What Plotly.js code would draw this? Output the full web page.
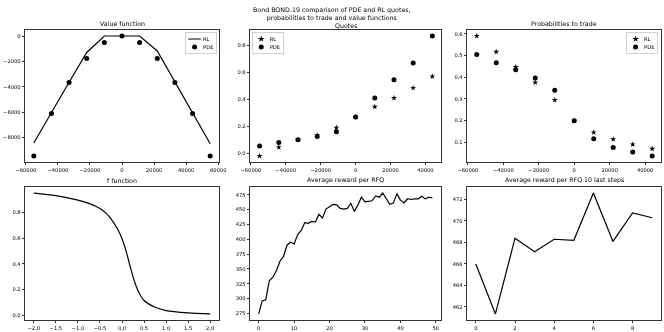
<!DOCTYPE html>
<html>
<head>
<meta charset="utf-8">
<script src="https://cdn.plot.ly/plotly-3.0.1.min.js"></script>
<style>
  html, body { margin: 0; padding: 0; background: #fff; }
  #chart { width: 664px; height: 332px; }
  .main-svg { will-change: transform; }
</style>
</head>
<body>
<div id="chart"></div>
<script>
// values
const valueX = [-55000, -44000, -33000, -22000, -11000, 0, 11000, 22000, 33000, 44000, 55000];
const valueRL = [-8450, -6000, -3650, -1300, 0, 0, 0, -1180, -3600, -6050, -8500];
const valuePDE = [-9470, -6110, -3660, -1780, -520, 0, -520, -1780, -3660, -6110, -9470];

const quoteX = [-55000, -44000, -33000, -22000, -11000, 0, 11000, 22000, 33000, 44000];
const quoteRL = [-0.02, 0.045, 0.10, 0.135, 0.19, 0.27, 0.345, 0.41, 0.485, 0.57];
const quotePDE = [0.055, 0.08, 0.10, 0.125, 0.16, 0.27, 0.41, 0.545, 0.67, 0.87];

const probRL = [0.59, 0.517, 0.447, 0.376, 0.295, 0.20, 0.146, 0.114, 0.09, 0.07];
const probPDE = [0.505, 0.467, 0.435, 0.397, 0.34, 0.20, 0.116, 0.076, 0.056, 0.037];

const fX = [-2.0, -1.5, -1.0, -0.75, -0.5, -0.35, -0.25, -0.1, 0.0, 0.1, 0.2, 0.3, 0.4, 0.5, 0.75, 1.0, 1.5, 2.0];
const fY = [0.95, 0.93, 0.895, 0.87, 0.83, 0.79, 0.75, 0.67, 0.595, 0.49, 0.36, 0.245, 0.165, 0.115, 0.062, 0.036, 0.018, 0.01];

const rewardX = [0, 1, 2, 3, 4, 5, 6, 7, 8, 9, 10, 11, 12, 13, 14, 15, 16, 17, 18, 19,
  20, 21, 22, 23, 24, 25, 26, 27, 28, 29, 30, 31, 32, 33, 34, 35, 36, 37, 38, 39,
  40, 41, 42, 43, 44, 45, 46, 47, 48, 49];
const rewardY = [274, 296, 298, 330, 336, 347, 363, 371, 390, 395,
  392, 408, 415, 428, 427, 430, 429, 442, 436, 451,
  455, 459, 458, 452, 451, 452, 461, 447, 458, 471,
  463, 464, 465, 473, 471, 478, 468, 459, 461, 477,
  466.0, 461.3, 468.4, 467.1, 468.3, 468.2, 472.6, 468.1, 470.8, 470.3];

const lastX = [0, 1, 2, 3, 4, 5, 6, 7, 8, 9];
const lastY = [466.0, 461.35, 468.4, 467.14, 468.3, 468.2, 472.6, 468.1, 470.75, 470.3];

const FONT = "DejaVu Sans, sans-serif";
const W = 664;
const H = 332;
const LEGEND_SCALE = 0.42;

// matplotlib-style 5% autoscale margin
function pad(...arrays) {
  const all = arrays.flat();
  const lo = Math.min(...all);
  const hi = Math.max(...all);
  const m = (hi - lo) * 0.05;
  return [lo - m, hi + m];
}

function axis(domain, anchor, range, extra) {
  return {
    domain,
    anchor,
    range,
    showline: true,
    mirror: true,
    linecolor: "#000",
    linewidth: 0.8,
    ticks: "outside",
    ticklen: 2.5,
    tickwidth: 0.8,
    tickcolor: "#000",
    showgrid: false,
    zeroline: false,
    tickfont: { family: FONT, size: 5.2, color: "#000" },
    ...extra,
  };
}

const cols = [[25 / W, 219 / W], [250 / W, 441 / W], [467 / W, 661 / W]];
const rows = [[1 - 162 / H, 1 - 30 / H], [1 - 320 / H, 1 - 187 / H]];

const dot = { color: "#000", size: 5, symbol: "circle" };
const star = { color: "#000", size: 4.5, symbol: "star" };
const line = { color: "#000", width: 1.2 };

const traces = [
  { x: valueX, y: valueRL, type: "scatter", mode: "lines", name: "RL", line, xaxis: "x", yaxis: "y", legend: "legend" },
  { x: valueX, y: valuePDE, type: "scatter", mode: "markers", name: "PDE", marker: dot, xaxis: "x", yaxis: "y", legend: "legend" },
  { x: quoteX, y: quoteRL, type: "scatter", mode: "markers", name: "RL", marker: star, xaxis: "x2", yaxis: "y2", legend: "legend2" },
  { x: quoteX, y: quotePDE, type: "scatter", mode: "markers", name: "PDE", marker: dot, xaxis: "x2", yaxis: "y2", legend: "legend2" },
  { x: quoteX, y: probRL, type: "scatter", mode: "markers", name: "RL", marker: star, xaxis: "x3", yaxis: "y3", legend: "legend3" },
  { x: quoteX, y: probPDE, type: "scatter", mode: "markers", name: "PDE", marker: dot, xaxis: "x3", yaxis: "y3", legend: "legend3" },
  { x: fX, y: fY, type: "scatter", mode: "lines", line: { ...line, shape: "spline", smoothing: 0.8 }, showlegend: false, xaxis: "x4", yaxis: "y4" },
  { x: rewardX, y: rewardY, type: "scatter", mode: "lines", line, showlegend: false, xaxis: "x5", yaxis: "y5" },
  { x: lastX, y: lastY, type: "scatter", mode: "lines", line, showlegend: false, xaxis: "x6", yaxis: "y6" },
];

function legendBox(x, xanchor) {
  return {
    x,
    xanchor,
    y: 1 - 32 / H,
    yanchor: "top",
    bgcolor: "rgba(255,255,255,0.8)",
    bordercolor: "#c8c8c8",
    borderwidth: 2,
    font: { family: FONT, size: 12.5, color: "#000" },
    itemsizing: "constant",
    itemwidth: 30,
    tracegroupgap: 0,
  };
}

function subTitle(text, col, row) {
  return {
    text,
    xref: "paper",
    yref: "paper",
    x: (cols[col][0] + cols[col][1]) / 2,
    y: rows[row][1],
    xanchor: "center",
    yanchor: "bottom",
    yshift: 1,
    showarrow: false,
    font: { family: FONT, size: 6.3, color: "#000" },
  };
}

const thousands = { tickformat: "d" };
const sideRange = pad(quoteX);
sideRange[0] = Math.min(sideRange[0], -60500);

const layout = {
  width: W,
  height: H,
  margin: { l: 0, r: 0, t: 0, b: 0 },
  paper_bgcolor: "#fff",
  plot_bgcolor: "#fff",
  font: { family: FONT, color: "#000" },
  xaxis: axis(cols[0], "y", pad(valueX), { tickvals: [-60000, -40000, -20000, 0, 20000, 40000, 60000], ...thousands }),
  yaxis: axis(rows[0], "x", pad(valueRL, valuePDE), { tickvals: [-8000, -6000, -4000, -2000, 0], ...thousands }),
  xaxis2: axis(cols[1], "y2", sideRange, { tickvals: [-60000, -40000, -20000, 0, 20000, 40000], ...thousands }),
  yaxis2: axis(rows[0], "x2", pad(quoteRL, quotePDE), { tickvals: [0, 0.2, 0.4, 0.6, 0.8], tickformat: ".1f" }),
  xaxis3: axis(cols[2], "y3", sideRange, { tickvals: [-60000, -40000, -20000, 0, 20000, 40000], ...thousands }),
  yaxis3: axis(rows[0], "x3", pad(probRL, probPDE), { tickvals: [0.1, 0.2, 0.3, 0.4, 0.5, 0.6], tickformat: ".1f" }),
  xaxis4: axis(cols[0], "y4", pad(fX), { tickvals: [-2, -1.5, -1, -0.5, 0, 0.5, 1, 1.5, 2], tickformat: ".1f" }),
  yaxis4: axis(rows[1], "x4", pad(fY), { tickvals: [0, 0.2, 0.4, 0.6, 0.8], tickformat: ".1f" }),
  xaxis5: axis(cols[1], "y5", pad(rewardX), { tickvals: [0, 10, 20, 30, 40, 50] }),
  yaxis5: axis(rows[1], "x5", pad(rewardY), { tickvals: [275, 300, 325, 350, 375, 400, 425, 450, 475] }),
  xaxis6: axis(cols[2], "y6", pad(lastX), { tickvals: [0, 2, 4, 6, 8] }),
  yaxis6: axis(rows[1], "x6", pad(lastY), { tickvals: [462, 464, 466, 468, 470, 472] }),
  legend: legendBox(218 / W, "right"),
  legend2: legendBox(252 / W, "left"),
  legend3: legendBox(659 / W, "right"),
  annotations: [
    {
      text: "Bond BOND.19 comparison of PDE and RL quotes,<br>probabilities to trade and value functions",
      xref: "paper",
      yref: "paper",
      x: 0.5,
      y: 1,
      xanchor: "center",
      yanchor: "top",
      yshift: -4,
      showarrow: false,
      font: { family: FONT, size: 6.3, color: "#000" },
    },
    subTitle("Value function", 0, 0),
    { ...subTitle("Quotes", 1, 0), yshift: -0.5 },
    subTitle("Probabilities to trade", 2, 0),
    subTitle("f function", 0, 1),
    subTitle("Average reward per RFQ", 1, 1),
    subTitle("Average reward per RFQ 10 last steps", 2, 1),
  ],
  showlegend: true,
};

// plotly legends can't go as small as matplotlib's, so shrink them after drawing
function shrinkLegends(gd) {
  const anchors = { legend: "right", legend2: "left", legend3: "right" };
  Object.keys(anchors).forEach((id) => {
    const g = gd.querySelector(`.infolayer > g.${id}`);
    if (!g) {
      return;
    }
    const match = /translate\(\s*([-\d.]+)[ ,]+([-\d.]+)\s*\)/.exec(g.getAttribute("transform") || "");
    if (!match) {
      return;
    }
    const tx = Number(match[1]);
    const ty = Number(match[2]);
    const bg = g.querySelector("rect.bg");
    const w = bg ? Number(bg.getAttribute("width")) : g.getBBox().width;
    const nx = anchors[id] === "right" ? tx + w * (1 - LEGEND_SCALE) : tx;
    g.setAttribute("transform", `translate(${nx},${ty}) scale(${LEGEND_SCALE})`);
    g.querySelectorAll(".legendlines path").forEach((path) => {
      path.style.strokeWidth = "2.8px";
    });
  });
}

Plotly.newPlot("chart", traces, layout, { displayModeBar: false, staticPlot: true }).then(shrinkLegends);
</script>
</body>
</html>
